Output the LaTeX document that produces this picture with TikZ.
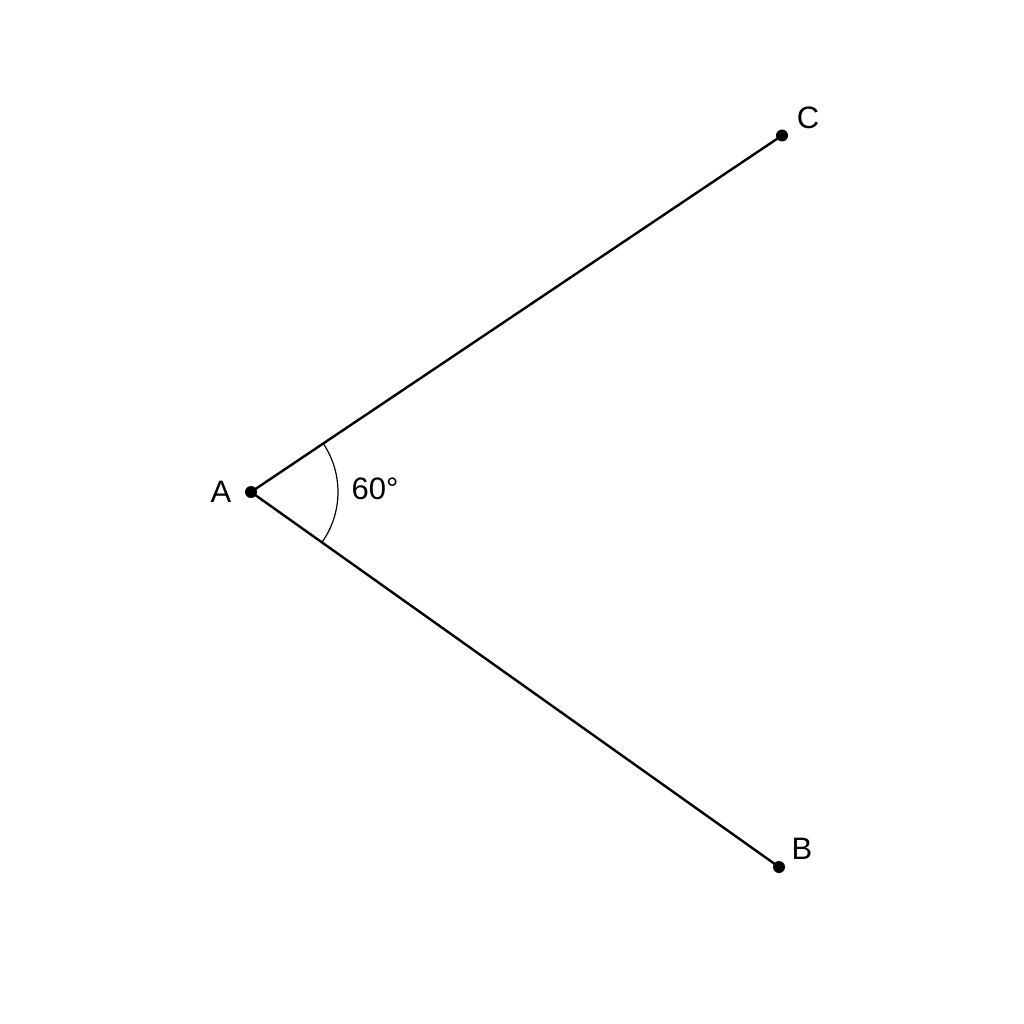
\documentclass[tikz,border=0pt]{standalone}
\usepackage{fontspec}
\setmainfont{Liberation Sans}
\begin{document}
\begin{tikzpicture}[x=1pt,y=-1pt,
  seg/.style={line width=2.4pt,line cap=round},
  pt/.style={circle,fill=black,inner sep=0pt,minimum size=12pt},
  lbl/.style={font=\fontsize{31}{36}\selectfont,inner sep=0pt}]
\useasboundingbox (0,0) rectangle (1024,1024);
\fill[white] (0,0) rectangle (1024,1024);
\node[pt] (A) at (251,492) {};
\node[pt] (C) at (782,135.5) {};
\node[pt] (B) at (779,867) {};
\draw[seg] (A.center) -- (C.center);
\draw[seg] (A.center) -- (B.center);
\node[lbl] (la) at (221,492) {A};
\node[lbl] (lc) at (808,118) {C};
\node[lbl] (lb) at (802,849) {B};
\node[lbl] (ang) at (375,489) {60°};
\draw[line width=1.2pt] (A.center) ++(33.9:87 and -87) arc[start angle=33.9,end angle=-35.4,x radius=87,y radius=-87];
\end{tikzpicture}
\end{document}
